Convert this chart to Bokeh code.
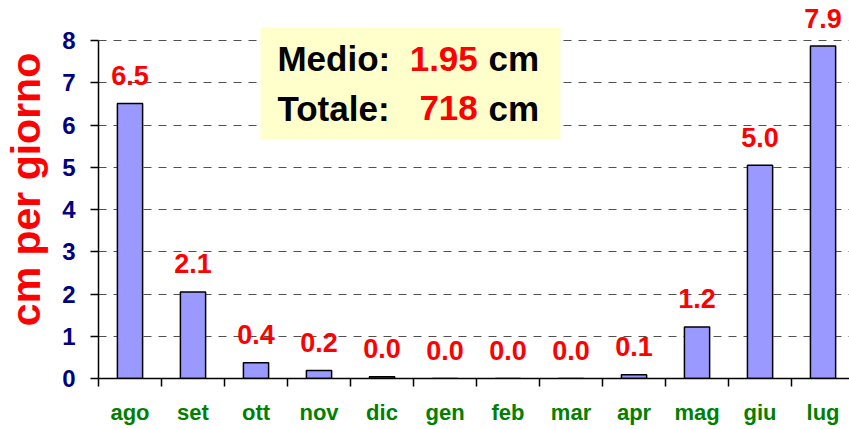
from bokeh.plotting import figure
from bokeh.models import (ColumnDataSource, FixedTicker, LabelSet, Label,
                          BoxAnnotation, Range1d)
from bokeh.core.properties import value
from bokeh.embed import file_html
from bokeh.resources import INLINE

months = ["ago", "set", "ott", "nov", "dic", "gen", "feb", "mar", "apr", "mag", "giu", "lug"]
values = [6.51, 2.05, 0.37, 0.19, 0.04, 0.0, 0.0, 0.0, 0.09, 1.22, 5.05, 7.87]
labels = ["6.5", "2.1", "0.4", "0.2", "0.0", "0.0", "0.0", "0.0", "0.1", "1.2", "5.0", "7.9"]
y_ticks = [0, 1, 2, 3, 4, 5, 6, 7, 8]
y_title = "cm per giorno"
medio = "1.95"
totale = "718"

FONT = "Liberation Sans"
xs = [i + 0.5 for i in range(len(months))]

src = ColumnDataSource(dict(x=xs, top=values, label=labels))

p = figure(width=849, height=429, output_backend="svg", toolbar_location=None,
           x_range=Range1d(0, 11.92), y_range=Range1d(0, 8.947),
           min_border_left=98, min_border_right=0, min_border_top=0, min_border_bottom=51)
p.outline_line_color = None
p.background_fill_color = "white"
p.border_fill_color = "white"

p.xgrid.visible = False
p.ygrid.ticker = FixedTicker(ticks=[1, 2, 3, 4, 5, 6, 7, 8])
p.ygrid.grid_line_color = "#505050"
p.ygrid.grid_line_dash = "8 7"
p.ygrid.grid_line_width = 1

# bars
p.vbar(x="x", top="top", bottom=0, width=0.4, source=src,
       fill_color="#9999FF", line_color="black", line_width=1.5)

# value labels
p.add_layout(LabelSet(x="x", y="top", text="label", source=src, y_offset=28,
                      text_align="center", text_baseline="middle",
                      text_font=value(FONT), text_font_style="bold",
                      text_font_size="27px", text_color="#FF0000"))

# x axis: month labels at centres, ticks at category boundaries
p.xaxis.ticker = FixedTicker(ticks=xs, minor_ticks=list(range(len(months) + 1)))
p.xaxis.major_label_overrides = {x: m for x, m in zip(xs, months)}
p.xaxis.major_tick_out = 0
p.xaxis.major_tick_in = 0
p.xaxis.minor_tick_out = 8
p.xaxis.minor_tick_in = 0
p.xaxis.minor_tick_line_color = "black"
p.xaxis.minor_tick_line_width = 1.5
p.xaxis.axis_line_color = "black"
p.xaxis.axis_line_width = 1.5
p.xaxis.major_label_standoff = 13
p.xaxis.major_label_text_font = FONT
p.xaxis.major_label_text_font_style = "bold"
p.xaxis.major_label_text_font_size = "22px"
p.xaxis.major_label_text_color = "#008000"

# y axis
p.yaxis.ticker = FixedTicker(ticks=y_ticks)
p.yaxis.bounds = (0, 8)
p.yaxis.major_tick_out = 8
p.yaxis.major_tick_in = 0
p.yaxis.minor_tick_line_color = None
p.yaxis.major_tick_line_color = "black"
p.yaxis.major_tick_line_width = 1.5
p.yaxis.axis_line_color = "black"
p.yaxis.axis_line_width = 1.5
p.yaxis.major_label_standoff = 15
p.yaxis.major_label_text_font = FONT
p.yaxis.major_label_text_font_style = "bold"
p.yaxis.major_label_text_font_size = "24px"
p.yaxis.major_label_text_color = "#000080"
p.yaxis.axis_label = y_title
p.yaxis.axis_label_standoff = 10
p.yaxis.axis_label_text_font = FONT
p.yaxis.axis_label_text_font_style = "bold"
p.yaxis.axis_label_text_font_size = "41px"
p.yaxis.axis_label_text_color = "#FF0000"

# info box
p.add_layout(BoxAnnotation(left=2.571, right=7.333, bottom=5.657, top=8.308,
                           fill_color="#FFFFCC", fill_alpha=1.0, line_color=None))

def lab(x, y, text, color, align):
    p.add_layout(Label(x=x, y=y, text=text, text_color=color, text_align=align,
                       text_baseline="middle", text_font=FONT,
                       text_font_style="bold", text_font_size="35px"))

y1, y2 = 7.574, 6.391
lab(2.84, y1, "Medio:", "black", "left")
lab(6.02, y1, medio, "#FF0000", "right")
lab(6.19, y1, "cm", "black", "left")
lab(2.84, y2, "Totale:", "black", "left")
lab(6.02, y2, totale, "#FF0000", "right")
lab(6.19, y2, "cm", "black", "left")

open("out.html", "w").write(file_html(p, INLINE))
